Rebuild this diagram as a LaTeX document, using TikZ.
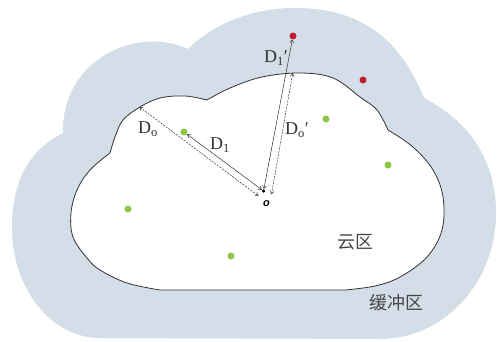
\documentclass[tikz,border=0pt]{standalone}
\usepackage{fontspec}
\setmainfont{Liberation Serif}
\newfontfamily\cjk{Noto Sans CJK SC}
\newfontfamily\olab{Liberation Sans}
\usetikzlibrary{arrows.meta}
\definecolor{buffer}{RGB}{211,222,232}
\definecolor{dotgreen}{RGB}{141,198,63}
\definecolor{dotred}{RGB}{190,30,45}
\definecolor{ink}{RGB}{50,50,50}
\tikzset{
  gdot/.style={circle,fill=dotgreen,inner sep=0pt,minimum size=7pt},
  rdot/.style={circle,fill=dotred,inner sep=0pt,minimum size=7pt},
  arr/.style={ink,line width=0.5pt,{Straight Barb[length=3pt,width=4pt]}-{Straight Barb[length=3pt,width=4pt]}},
  darr/.style={arr,dash pattern=on 2pt off 1.2pt},
  lbl/.style={font=\fontsize{18}{20}\selectfont,text=ink,inner sep=0pt},
  cjklbl/.style={font=\cjk\fontsize{18}{20}\selectfont,text=ink!90,inner sep=0pt},
  sm/.style={smooth,tension=0.6}
}
\begin{document}
\begin{tikzpicture}[x=1pt,y=-1pt]
\useasboundingbox (0,0) rectangle (497,342);
% buffer zone (outer cloud)
\fill[buffer] (63,133) .. controls (27.4,151) and (12,183) .. (12,228)
 .. controls (12,288.7) and (51.4,338) .. (100,338)
 -- (380,339)
 .. controls (444,339) and (496,282.6) .. (496,213)
 .. controls (496,159) and (468.4,121.2) .. (424,98)
 .. controls (399.5,37.8) and (360,8) .. (295,8)
 .. controls (255.4,8) and (216.4,21.4) .. (188,49)
 .. controls (160.5,36.1) and (126.2,40.5) .. (101,57.5)
 .. controls (75.8,74.5) and (61.9,102.6) .. (63,133) -- cycle;
% cloud zone (inner cloud)
\filldraw[fill=white,draw=ink,line width=0.8pt]
 plot[sm] coordinates {(110,153) (115,137) (123,120) (140,107) (160,98) (185,96) (207,100)}
 -- plot[sm] coordinates {(207,100) (230,88) (262,77) (300,73) (333,78) (360,97) (377,110) (388,130)}
 -- plot[sm] coordinates {(388,130) (413,147) (433,170) (443,197) (442,230) (427,257) (400,277) (375,286) (345,290)}
 -- (160,290)
 -- plot[sm] coordinates {(160,290) (127,283) (100,270) (87,258) (73,237) (71,213) (77,190) (90,170) (110,153)} -- cycle;
% dots
\node[gdot] (g1) at (184,132) {};
\node[gdot] (g2) at (128,209) {};
\node[gdot] (g3) at (231,256) {};
\node[gdot] (g4) at (326,119) {};
\node[gdot] (g5) at (388,165) {};
\node[rdot] (r1) at (293,36) {};
\node[rdot] (r2) at (363,80) {};
\node[circle,fill=black,inner sep=0pt,minimum size=3.5pt] (O) at (263.5,191) {};
\node[font=\olab\bfseries\itshape\fontsize{11}{12}\selectfont,inner sep=0pt] (Olab) at (266.5,203.5) {o};
% boundary coordinates
\coordinate (bo) at (139.5,107);
\coordinate (Oa) at (258.5,196);
\coordinate (bt) at (292.7,73);
\coordinate (Ob) at (271.5,194.5);
% arrows
\draw[arr] (g1) -- (O);
\draw[darr] (bo) -- (Oa);
\draw[arr] (O) -- (r1);
\draw[darr] (Ob) -- (bt);
% labels
\node[lbl] (lDo) at (148,129) {D\textsubscript{o}};
\node[lbl] (lD1) at (220,145) {D\textsubscript{1}};
\node[lbl] (lD1p) at (276,58) {D\textsubscript{1}′};
\node[lbl] (lDop) at (297,130) {D\textsubscript{o}′};
\node[cjklbl] (cloud) at (355,242) {云区};
\node[cjklbl] (buf) at (396,303) {缓冲区};
\end{tikzpicture}
\end{document}
